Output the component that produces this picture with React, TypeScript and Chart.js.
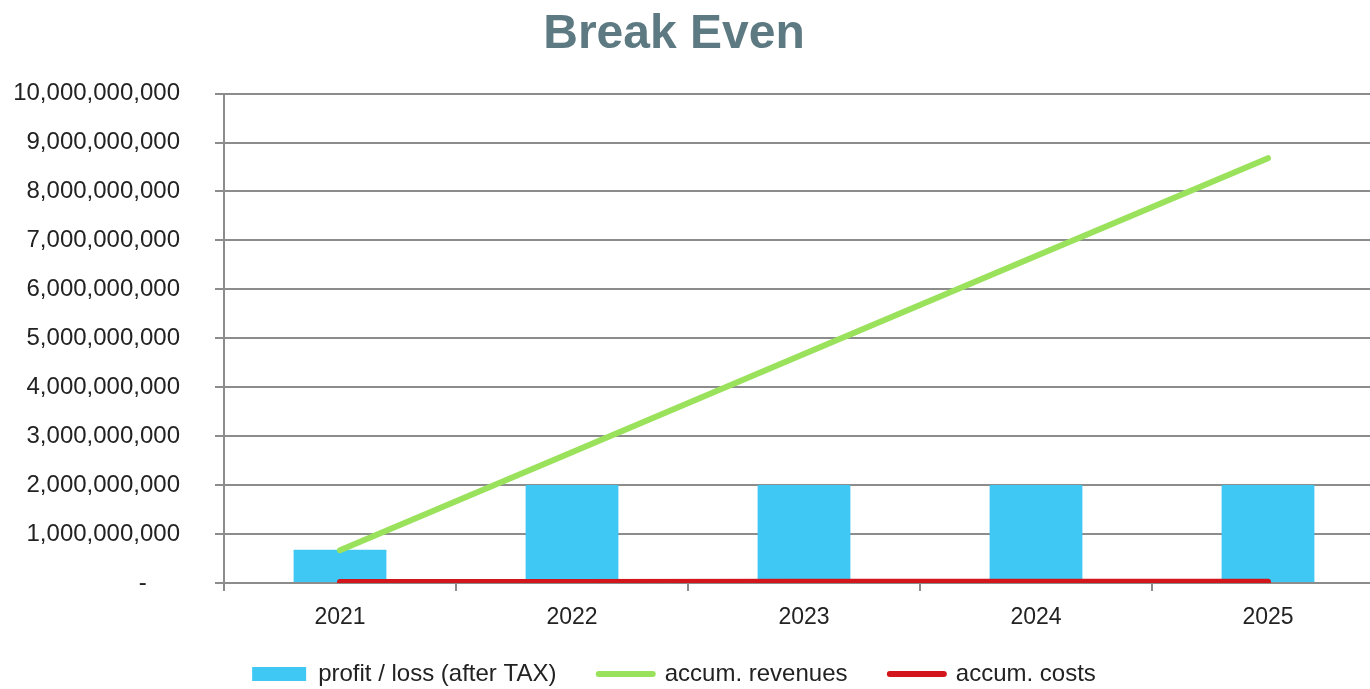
import { useEffect, useRef } from 'react';
import Chart from 'chart.js/auto';

const years = ['2021', '2022', '2023', '2024', '2025'];
const profitAfterTax = [680e6, 2000e6, 2000e6, 2000e6, 2000e6];
const accumRevenues = [670e6, 2670e6, 4680e6, 6680e6, 8680e6];
const accumCosts = [20e6, 22e6, 24e6, 26e6, 28e6];
const yMin = 0;
const yMax = 10e9;
const yStep = 1e9;

const FONT = "'Liberation Sans', Arial, sans-serif";
const GRID = '#8c8c8c';
const TEXT = '#222222';

export default function App() {
  const ref = useRef<HTMLCanvasElement | null>(null);
  useEffect(() => {
    if (!ref.current) return;
    const chart = new Chart(ref.current, {
      type: 'bar',
      data: {
        labels: years,
        datasets: [
          {
            type: 'bar',
            label: 'profit / loss (after TAX)',
            data: profitAfterTax,
            backgroundColor: '#40c8f5',
            borderWidth: 0,
            barPercentage: 0.4,
            categoryPercentage: 1,
            order: 2,
          },
          {
            type: 'line',
            label: 'accum. revenues',
            data: accumRevenues,
            borderColor: '#9be25c',
            backgroundColor: '#9be25c',
            borderWidth: 6,
            pointRadius: 0,
            borderCapStyle: 'round',
            tension: 0,
            order: 1,
          },
          {
            type: 'line',
            label: 'accum. costs',
            data: accumCosts,
            borderColor: '#d2161c',
            backgroundColor: '#d2161c',
            borderWidth: 6,
            pointRadius: 0,
            borderCapStyle: 'round',
            tension: 0,
            order: 0,
          },
        ],
      },
      options: {
        animation: false,
        responsive: false,
        maintainAspectRatio: false,
        layout: { padding: { left: 0, right: 0, top: 0, bottom: 0 } },
        plugins: {
          tooltip: { enabled: false },
          title: {
            display: true,
            text: 'Break Even',
            color: '#5d7a82',
            font: { family: FONT, size: 48, weight: 'bold' },
            padding: { top: 6, bottom: 30 },
          },
          legend: {
            position: 'bottom',
            maxHeight: 56,
            labels: {
              color: TEXT,
              font: { family: FONT, size: 24 },
              usePointStyle: true,
              pointStyleWidth: 54,
              boxHeight: 14,
              padding: 29,
              sort: (a: any, b: any) => a.datasetIndex - b.datasetIndex,
              generateLabels: (c: any) => {
                const items = Chart.defaults.plugins.legend.labels.generateLabels(c);
                const n = c.data.datasets.length;
                return items.map((it: any) => {
                  const ds = c.data.datasets[it.datasetIndex];
                  const text = it.datasetIndex < n - 1 ? it.text + '  ' : it.text;
                  if (ds.type === 'line') {
                    return { ...it, text, pointStyle: 'line', lineWidth: 6, strokeStyle: ds.borderColor, lineCap: 'round' };
                  }
                  return { ...it, text, pointStyle: 'rect', lineWidth: 0, fillStyle: ds.backgroundColor, strokeStyle: ds.backgroundColor };
                });
              },
            },
          },
        },
        scales: {
          x: {
            offset: true,
            afterFit: (s: any) => {
              s.height = 50;
            },
            grid: {
              display: true,
              offset: true,
              drawOnChartArea: false,
              drawTicks: true,
              tickLength: 8,
              color: GRID,
              lineWidth: 2,
            },
            border: { display: true, color: GRID, width: 2 },
            ticks: { color: TEXT, font: { family: FONT, size: 23 }, padding: 13 },
          },
          y: {
            min: yMin,
            max: yMax,
            afterFit: (s: any) => {
              s.width = 260;
            },
            grid: { color: GRID, lineWidth: 2, tickLength: 9, drawTicks: true },
            border: { display: true, color: GRID, width: 2 },
            ticks: {
              stepSize: yStep,
              color: TEXT,
              font: { family: FONT, size: 24 },
              padding: 35,
              callback: (v: any) => (Number(v) === 0 ? '-     ' : Number(v).toLocaleString('en-US')),
            },
          },
        },
      },
    });
    return () => chart.destroy();
  }, []);
  return (
    <div style={{ position: 'fixed', left: 0, top: 0, width: 1370, height: 689, overflow: 'hidden', background: '#fff' }}>
      <canvas ref={ref} width={1420} height={689} style={{ position: 'absolute', left: -36, top: 0, width: 1420, height: 689 }} />
    </div>
  );
}
